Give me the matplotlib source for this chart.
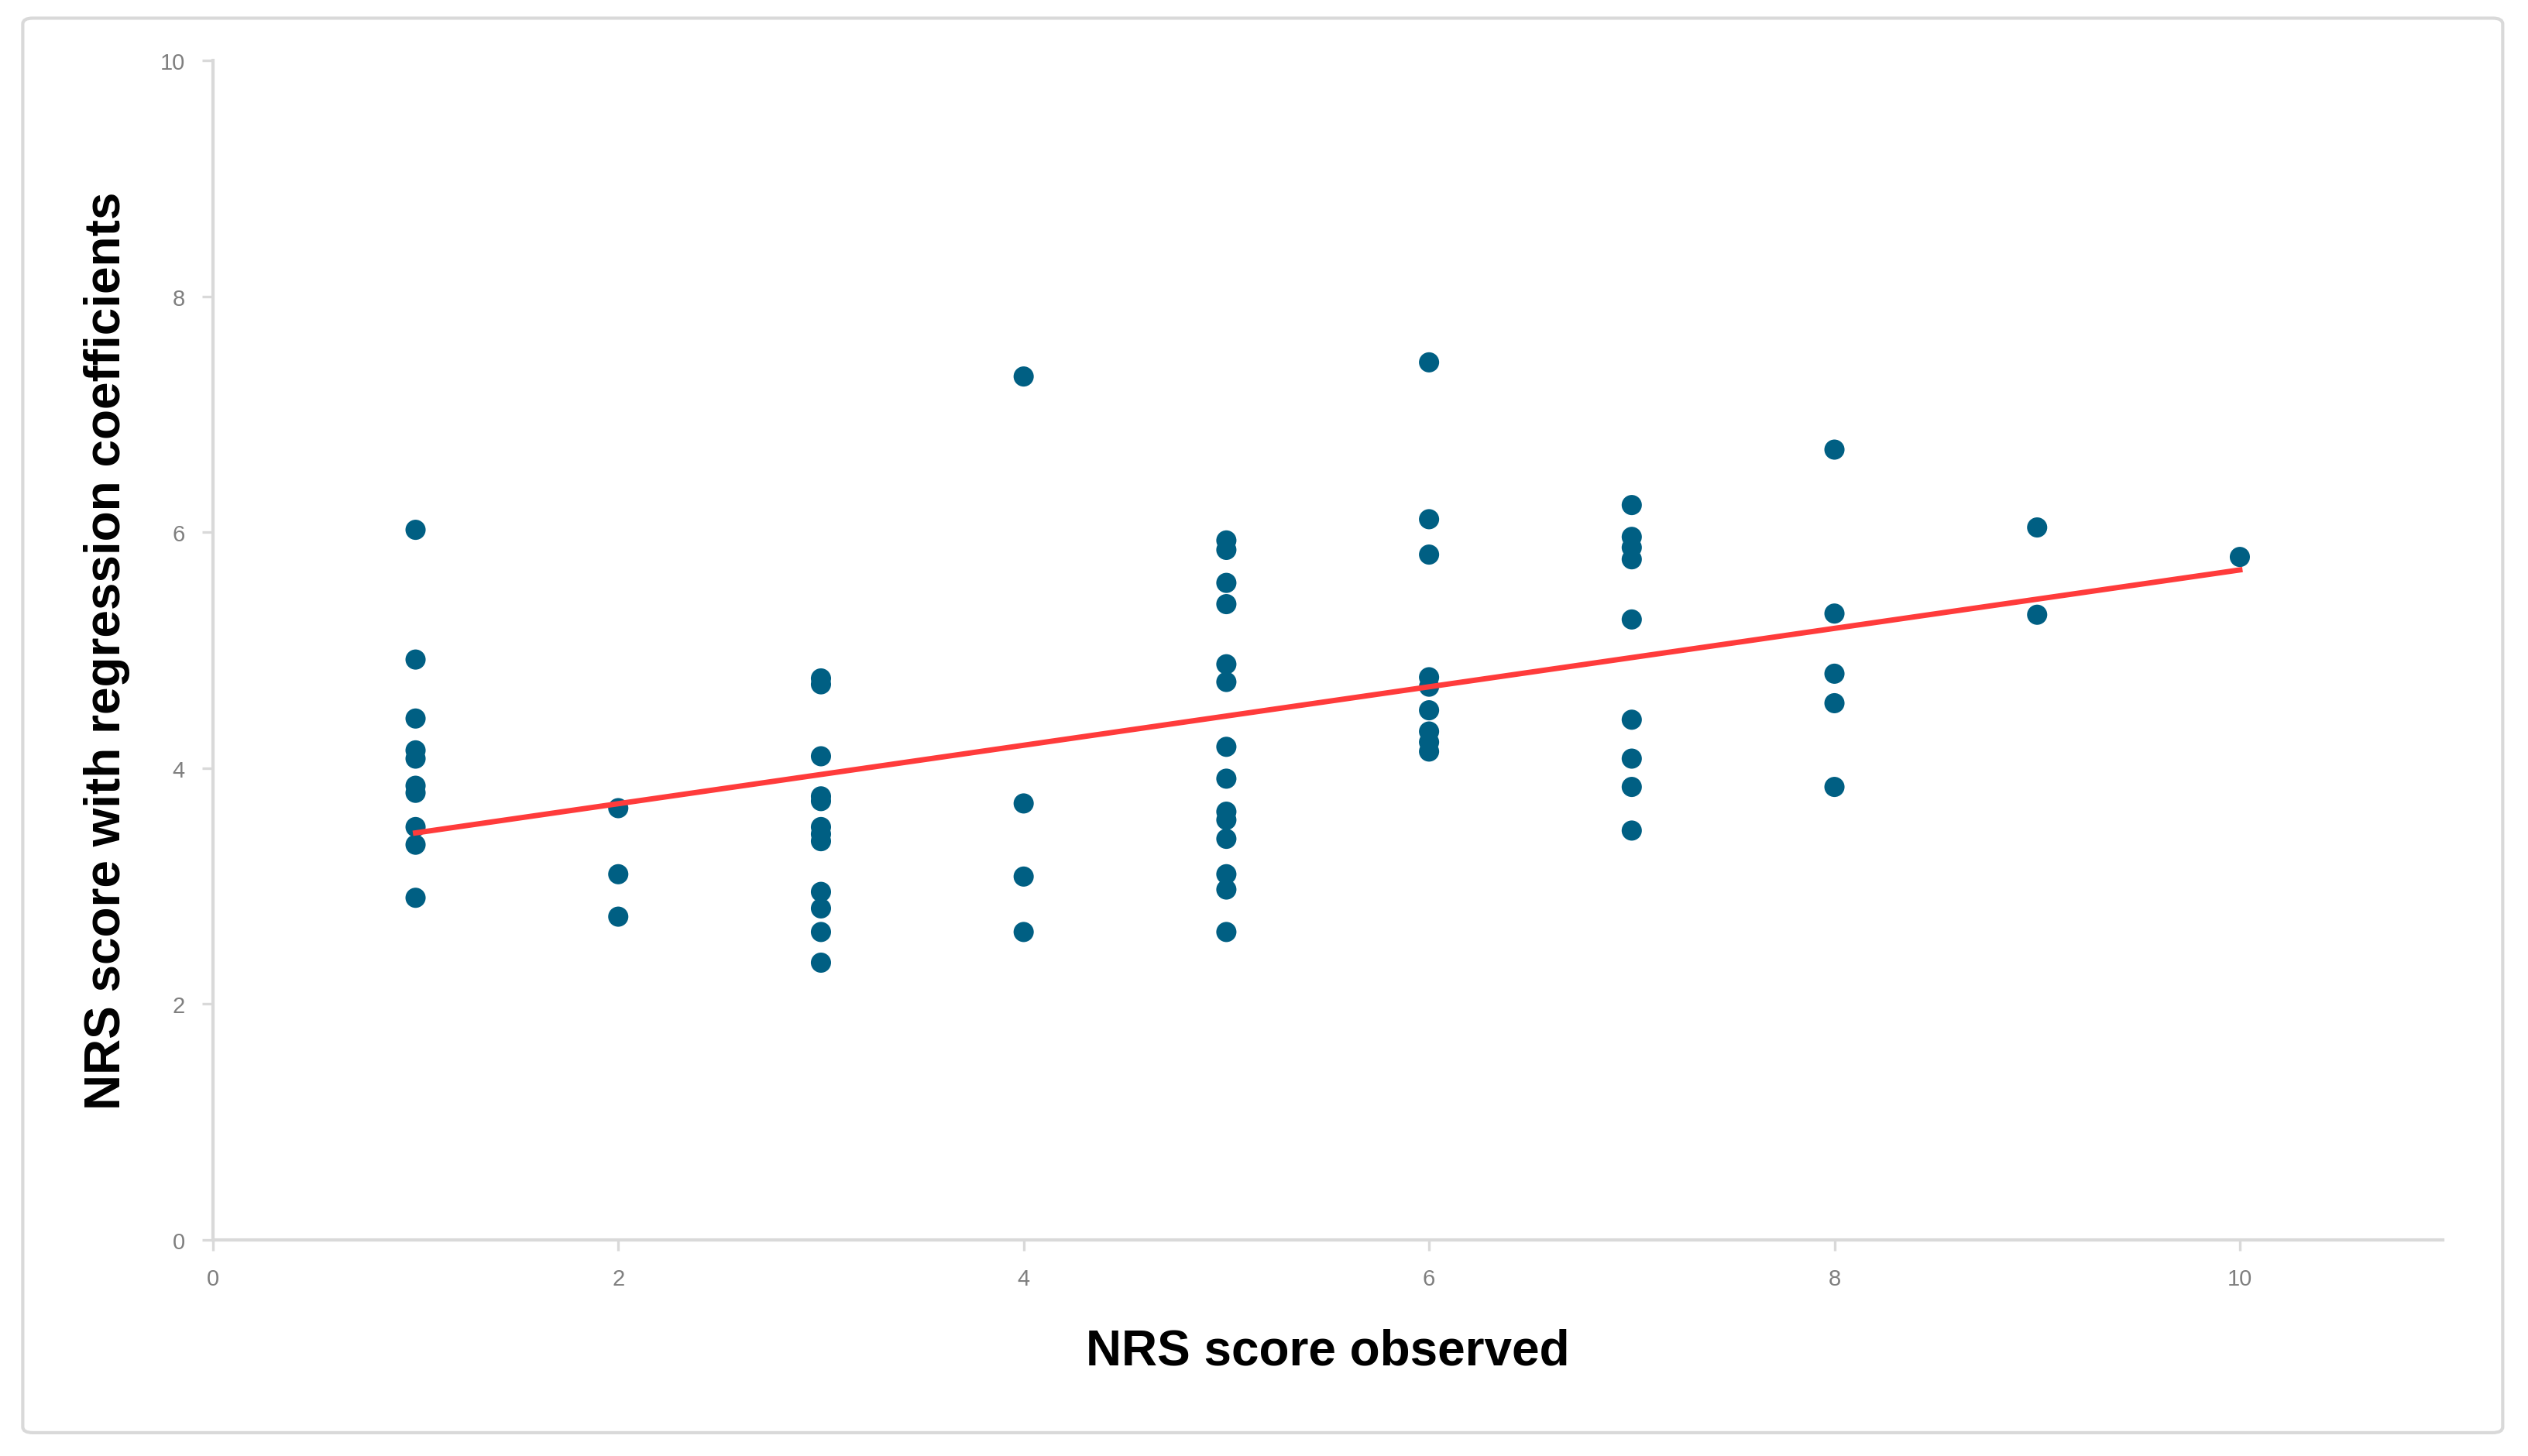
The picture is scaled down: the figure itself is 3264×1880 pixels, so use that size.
import numpy as np
import matplotlib.pyplot as plt
from matplotlib.patches import FancyBboxPatch

# observed NRS score (x) and score predicted with regression coefficients (y)
obs_1 = [6.02, 4.92, 4.42, 4.15, 4.08, 3.85, 3.79, 3.50, 3.35, 2.90]
obs_2 = [3.66, 3.10, 2.74]
obs_3 = [4.76, 4.71, 4.10, 3.76, 3.72, 3.50, 3.44, 3.38, 2.95, 2.81, 2.61, 2.35]
obs_4 = [7.32, 3.70, 3.08, 2.61]
obs_5 = [5.93, 5.85, 5.57, 5.39, 4.88, 4.73, 4.18, 3.91, 3.63, 3.56, 3.40, 3.10, 2.97, 2.61]
obs_6 = [7.44, 6.11, 5.81, 4.77, 4.69, 4.49, 4.31, 4.22, 4.14]
obs_7 = [6.23, 5.96, 5.87, 5.77, 5.26, 4.41, 4.08, 3.84, 3.47]
obs_8 = [6.70, 5.31, 4.80, 4.55, 3.84]
obs_9 = [6.04, 5.30]
obs_10 = [5.79]

groups = [obs_1, obs_2, obs_3, obs_4, obs_5, obs_6, obs_7, obs_8, obs_9, obs_10]
observed = np.concatenate([[i + 1] * len(g) for i, g in enumerate(groups)])
predicted = np.concatenate(groups)

# linear trend line as drawn in the figure
trend_x = [1, 10]
trend_y = [3.45, 5.68]

fig = plt.figure(figsize=(16.32, 9.405), dpi=200)
ax = fig.add_axes([0.0842, 0.1484, 0.882, 0.8096])

ax.scatter(observed, predicted, s=88, color='#005f83', edgecolors='none', zorder=3)
ax.plot(trend_x, trend_y, color='#ff3b3b', linewidth=2.5, zorder=4)

ax.set_xlim(0, 11)
ax.set_ylim(0, 10)
ax.set_xticks([0, 2, 4, 6, 8, 10])
ax.set_yticks([0, 2, 4, 6, 8, 10])

for side in ['top', 'right']:
    ax.spines[side].set_visible(False)
for side in ['left', 'bottom']:
    ax.spines[side].set_color('#d9d9d9')
    ax.spines[side].set_linewidth(1.5)

ax.tick_params(axis='both', colors='#d9d9d9', labelcolor='#7f7f7f',
               labelsize=10.5, length=5, width=1.2, pad=8)
for lab in ax.get_xticklabels() + ax.get_yticklabels():
    lab.set_family('Liberation Sans')

ax.set_xlabel('NRS score observed', fontsize=23, fontweight='bold',
              family='Liberation Sans', labelpad=18)
ax.set_ylabel('NRS score with regression coefficients', fontsize=23,
              fontweight='bold', family='Liberation Sans', labelpad=14)

# light frame around the whole chart
frame = FancyBboxPatch((0.009, 0.016), 0.981, 0.971, transform=fig.transFigure,
                       boxstyle='round,pad=0,rounding_size=0.004',
                       facecolor='none', edgecolor='#d9d9d9', linewidth=1.5)
fig.patches.append(frame)

fig.savefig('out.png', dpi=200, facecolor='white')
